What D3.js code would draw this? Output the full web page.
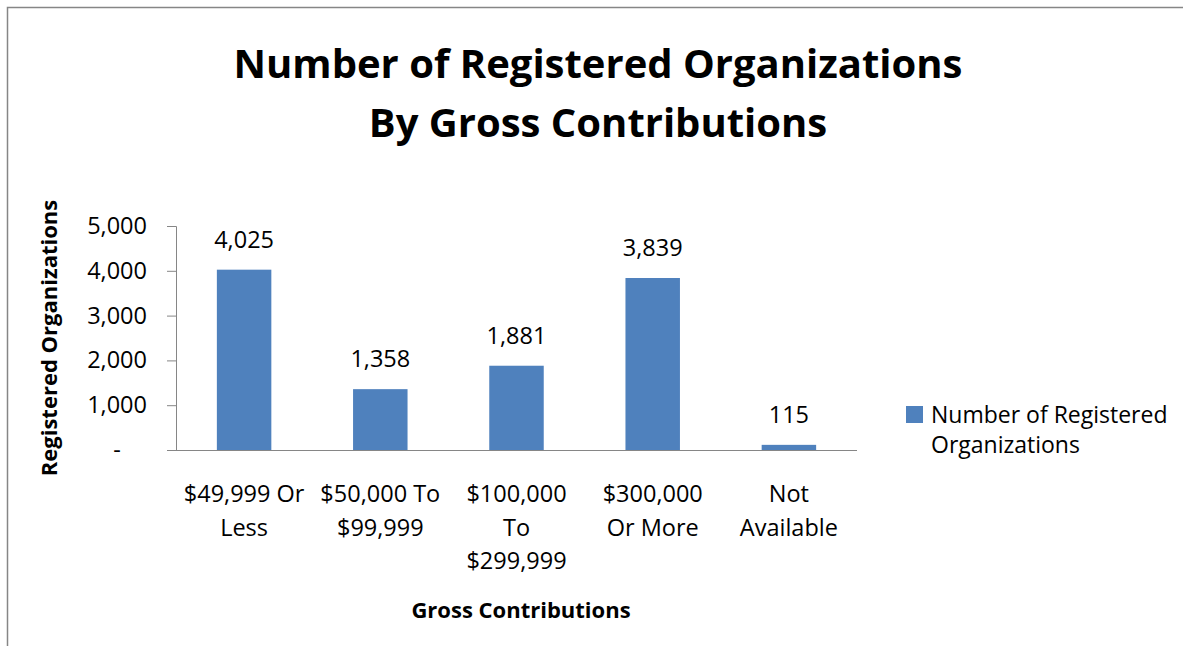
<!DOCTYPE html>
<html>
<head>
<meta charset="utf-8">
<script src="https://cdn.jsdelivr.net/npm/d3@7"></script>
<style>
	body { margin: 0; background: #fff; }
	text { font-family: "Open Sans", sans-serif; fill: #000; }
</style>
</head>
<body>
<div id="chart"></div>
<script>

//data
const categories = ["$49,999 Or Less", "$50,000 To $99,999", "$100,000 To $299,999", "$300,000 Or More", "Not Available"];
const counts = [4025, 1358, 1881, 3839, 115];
const yTicks = [0, 1000, 2000, 3000, 4000, 5000];
const titleLines = ["Number of Registered Organizations", "By Gross Contributions"];
const seriesName = "Number of Registered Organizations";
const xTitle = "Gross Contributions";
const yTitle = "Registered Organizations";


//wrap a text into tspans, word by word
function wrap(text, maxW, lineH){
	text.each(function(){
		let t = d3.select(this);
		let words = t.text().split(" ");
		let x = +t.attr("x") || 0;
		let y = +t.attr("y") || 0;
		t.text(null);
		let line = [];
		let n = 0;
		let ts = t.append("tspan").attr("x", x).attr("y", y);
		words.forEach((w)=>{
			line.push(w);
			ts.text(line.join(" "));
			if(ts.node().getComputedTextLength() > maxW && line.length > 1){
				line.pop();
				ts.text(line.join(" "));
				line = [w];
				n++;
				ts = t.append("tspan").attr("x", x).attr("y", y + n*lineH).text(w);
			}
		});
	});
}


function chart1(){

	//sizing
	const width = 1183;
	const height = 646;
	const margin = {top: 226, right: 326, bottom: 196, left: 176};
	const labelSize = "23.5px";
	const lineH = 33.5;

	let svg = d3.select("#chart")
		.append("svg")
		.attr("width", width)
		.attr("height", height);

	//chart border (runs off the right and bottom edge)
	svg.append("rect")
		.attr("x", 7.5)
		.attr("y", 7.5)
		.attr("width", width + 20)
		.attr("height", height + 20)
		.attr("fill", "none")
		.attr("stroke", "#868686")
		.attr("stroke-width", 1.5);

	//title
	svg.append("text")
		.attr("text-anchor", "middle")
		.style("font-size", "40px")
		.style("font-weight", "bold")
		.selectAll("tspan")
		.data(titleLines)
		.enter().append("tspan")
		.attr("x", 598)
		.attr("y", (d, i)=>{return 78 + i*59;})
		.text((d)=>{return d;});

	let x = d3.scaleBand()
		.domain(categories)
		.range([margin.left, width - margin.right])
		.paddingInner(0.6)
		.paddingOuter(0.3);

	let y = d3.scaleLinear()
		.domain([0, 5000])
		.range([height - margin.bottom, margin.top]);

	//y axis
	let yAxis = svg.append("g")
		.attr("transform", "translate(" + margin.left + ",0)")
		.call(d3.axisLeft(y)
			.tickValues(yTicks)
			.tickSize(9)
			.tickPadding(20)
			.tickFormat((d)=>{return d === 0 ? "-" : d3.format(",")(d);}));

	yAxis.select(".domain").attr("stroke", "#868686");
	yAxis.selectAll(".tick line").attr("stroke", "#868686");
	yAxis.selectAll("text")
		.style("font-size", labelSize)
		.style("font-family", "'Open Sans', sans-serif");

	//the zero label "-" sits in the middle of the label column
	let labW = yAxis.selectAll("text").filter((d)=>{return d === 5000;}).node().getComputedTextLength();
	yAxis.selectAll("text").filter((d)=>{return d === 0;})
		.attr("text-anchor", "middle")
		.attr("x", -29 - labW/2);

	//x axis
	let xAxis = svg.append("g")
		.attr("transform", "translate(0," + y(0) + ")")
		.call(d3.axisBottom(x).tickSize(0).tickPadding(0));

	xAxis.select(".domain")
		.attr("d", "M" + (margin.left - 9) + ",0.5H" + (width - margin.right))
		.attr("stroke", "#868686");

	xAxis.selectAll("text")
		.style("font-size", labelSize)
		.style("font-family", "'Open Sans', sans-serif")
		.attr("dy", null)
		.attr("y", 52)
		.call(wrap, 128, lineH);

	//bars
	svg.append("g")
		.selectAll("rect")
		.data(counts)
		.enter().append("rect")
		.attr("x", (d, i)=>{return x(categories[i]);})
		.attr("y", (d)=>{return y(d);})
		.attr("width", x.bandwidth())
		.attr("height", (d)=>{return y(0) - y(d);})
		.attr("fill", "#4F81BD");

	//value labels
	svg.append("g")
		.selectAll("text")
		.data(counts)
		.enter().append("text")
		.attr("x", (d, i)=>{return x(categories[i]) + x.bandwidth()/2;})
		.attr("y", (d)=>{return y(d) - 22;})
		.attr("text-anchor", "middle")
		.style("font-size", labelSize)
		.text((d)=>{return d3.format(",")(d);});

	//axis titles
	svg.append("text")
		.attr("x", 521)
		.attr("y", 618)
		.attr("text-anchor", "middle")
		.style("font-size", "22px")
		.style("font-weight", "bold")
		.text(xTitle);

	svg.append("text")
		.attr("transform", "translate(57," + (y(2500)) + ") rotate(-90)")
		.attr("text-anchor", "middle")
		.style("font-size", "22px")
		.style("font-weight", "bold")
		.text(yTitle);

	//legend
	let legend = svg.append("g")
		.attr("transform", "translate(906,406)");

	legend.append("rect")
		.attr("width", 17)
		.attr("height", 17)
		.attr("fill", "#4F81BD");

	legend.append("text")
		.attr("x", 25)
		.attr("y", 17)
		.style("font-size", "23px")
		.text(seriesName)
		.call(wrap, 250, 30);

}

chart1();

</script>
</body>
</html>
